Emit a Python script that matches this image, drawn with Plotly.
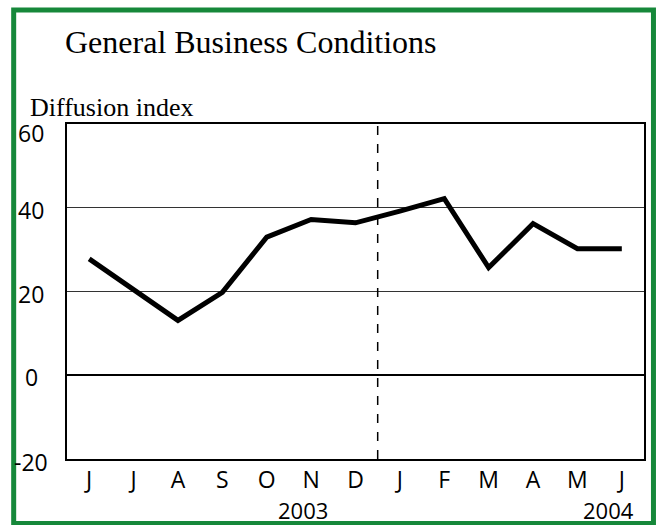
import plotly.graph_objects as go

months = ["J", "J", "A", "S", "O", "N", "D", "J", "F", "M", "A", "M", "J"]
index_values = [27.8, 20.4, 13.1, 19.8, 33.0, 37.2, 36.4, 39.2, 42.2, 25.7, 36.2, 30.2, 30.2]
y_ticks = [60, 40, 20, 0, -20]
year_labels = ["2003", "2004"]

W, H = 657, 525
# plot area in screen pixels
L, R, T, B = 67, 646, 124, 459

def px(x):
    return (x - L) / (R - L)

def py(y):
    return (B - y) / (B - T)

fig = go.Figure()
fig.add_trace(go.Scatter(
    x=list(range(len(months))), y=index_values, mode="lines",
    line=dict(color="black", width=5), hoverinfo="skip", showlegend=False,
))

tick_font = dict(family="Open Sans", size=23, color="black")

fig.update_layout(
    width=W, height=H,
    margin=dict(l=L, r=W - R, t=T, b=H - B),
    paper_bgcolor="white", plot_bgcolor="white",
    xaxis=dict(range=[-0.5, 12.5], tickvals=list(range(len(months))), ticktext=months,
               showgrid=False, zeroline=False, showline=True, mirror=True,
               linecolor="black", linewidth=1.5, ticks="", tickfont=tick_font),
    yaxis=dict(range=[-20, 60], tickvals=[20, 40], showticklabels=False,
               showgrid=True, gridcolor="#333333", gridwidth=1,
               zeroline=True, zerolinecolor="black", zerolinewidth=2,
               showline=True, mirror=True, linecolor="black", linewidth=1.5, ticks=""),
)

# dashed separator between years
fig.add_shape(type="line", xref="x", yref="y", x0=6.5, x1=6.5, y0=-20, y1=60,
              line=dict(color="black", width=1.5, dash="dash"))

# y tick labels (centred)
for v in y_ticks:
    shift = -9 if v == 60 else (-3 if v == -20 else -2)
    fig.add_annotation(xref="paper", yref="y", x=px(31), y=v, text=str(v),
                       showarrow=False, xanchor="center", yanchor="middle",
                       yshift=shift, font=tick_font)

# year labels
year_font = dict(family="Open Sans", size=22, color="black")
fig.add_annotation(xref="paper", yref="paper", x=px(304), y=py(509.5), text=year_labels[0],
                   showarrow=False, xanchor="center", yanchor="middle", font=year_font)
fig.add_annotation(xref="paper", yref="paper", x=px(610), y=py(509.5), text=year_labels[1],
                   showarrow=False, xanchor="center", yanchor="middle", font=year_font)

# title and axis title
fig.add_annotation(xref="paper", yref="paper", x=px(63), y=py(42), text="General Business Conditions",
                   showarrow=False, xanchor="left", yanchor="middle",
                   font=dict(family="Liberation Serif", size=32, color="black"))
fig.add_annotation(xref="paper", yref="paper", x=px(28), y=py(107), text="Diffusion index",
                   showarrow=False, xanchor="left", yanchor="middle",
                   font=dict(family="Liberation Serif", size=26, color="black"))

# green frame
fig.add_shape(type="rect", xref="paper", yref="paper", x0=px(13.5), x1=px(655.5),
              y0=py(523.5), y1=py(10), line=dict(color="#16883a", width=5), layer="above")

fig.write_html("out.html", config={"displayModeBar": False},
               post_script="document.body.style.margin='0px';document.body.style.overflow='hidden';")
